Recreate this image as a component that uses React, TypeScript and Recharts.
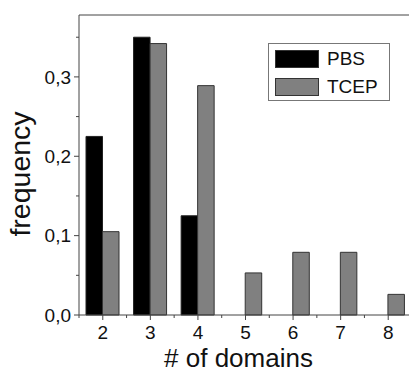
import React from 'react';
import { BarChart, Bar, XAxis, YAxis, ReferenceLine } from 'recharts';

// number of domains per molecule
const domainCounts = [2, 3, 4, 5, 6, 7, 8];
const pbsFreq = [0.225, 0.35, 0.125, 0, 0, 0, 0];
const tcepFreq = [0.105, 0.342, 0.289, 0.053, 0.079, 0.079, 0.026];
const seriesNames = ['PBS', 'TCEP'];

// major ticks on whole numbers, minor ones in between
const xTicks = [1.5, 2, 2.5, 3, 3.5, 4, 4.5, 5, 5.5, 6, 6.5, 7, 7.5, 8, 8.5];
const yTicks = [0, 0.05, 0.1, 0.15, 0.2, 0.25, 0.3, 0.35];
const yMax = 0.378;

const AXIS = '#444';
const FONT = '"Liberation Sans", Arial, sans-serif';
const colors = ['#000000', '#808080'];

const chartData = domainCounts.map((d, i) => ({
  domains: d,
  PBS: pbsFreq[i],
  TCEP: tcepFreq[i],
}));

const isMajorY = (v: number) => Math.abs(v * 10 - Math.round(v * 10)) < 1e-6;

function XTick({ x, y, payload }: any) {
  const major = Number.isInteger(payload.value);
  return (
    <g>
      <line x1={x} x2={x} y1={y} y2={y + (major ? 5 : 3)} stroke={AXIS} />
      {major && (
        <text x={x} y={y + 24} textAnchor="middle" fontSize={19} fill="#111" fontFamily={FONT}>
          {payload.value}
        </text>
      )}
    </g>
  );
}

function YTick({ x, y, payload }: any) {
  const major = isMajorY(payload.value);
  return (
    <g>
      <line x1={x - (major ? 5 : 3)} x2={x} y1={y} y2={y} stroke={AXIS} />
      {major && (
        <text x={x - 8} y={y} dy="0.36em" textAnchor="end" fontSize={19} fill="#111" fontFamily={FONT}>
          {payload.value.toFixed(1).replace('.', ',')}
        </text>
      )}
    </g>
  );
}

function XTitle(props: any) {
  const vb = props.viewBox;
  return (
    <text x={vb.x + vb.width / 2 - 7} y={vb.y + 52} textAnchor="middle" fontSize={26} fill="#111" fontFamily={FONT}>
      # of domains
    </text>
  );
}

function YTitle(props: any) {
  const vb = props.viewBox;
  const cx = vb.x + 30;
  const cy = vb.y + vb.height / 2 + 9;
  return (
    <text
      x={cx}
      y={cy}
      transform={`rotate(-90 ${cx} ${cy})`}
      textAnchor="middle"
      fontSize={28.5}
      fill="#111"
      fontFamily={FONT}
    >
      frequency
    </text>
  );
}

export default function App() {
  return (
    <div
      style={{
        position: 'absolute',
        left: 0,
        top: 0,
        width: 409,
        height: 374,
        overflow: 'hidden',
        background: '#fff',
        fontFamily: FONT,
      }}
    >
      <BarChart
        width={430}
        height={374}
        data={chartData}
        margin={{ top: 15, right: 18, left: 0, bottom: 0 }}
        barGap={0}
        barSize={16.5}
      >
        <XAxis
          dataKey="domains"
          type="number"
          domain={[1.5, 8.5]}
          ticks={xTicks}
          tickCount={8}
          interval={0}
          height={59}
          tickSize={0}
          tickMargin={0}
          tickLine={false}
          tick={<XTick />}
          axisLine={{ stroke: AXIS }}
          label={XTitle}
        />
        <YAxis
          type="number"
          domain={[0, yMax]}
          ticks={yTicks}
          interval={0}
          width={79}
          tickSize={0}
          tickMargin={0}
          tickLine={false}
          tick={<YTick />}
          axisLine={{ stroke: AXIS }}
          label={YTitle}
        />
        <ReferenceLine y={yMax} stroke={AXIS} />
        <Bar dataKey="PBS" fill={colors[0]} stroke="#222" strokeWidth={1} isAnimationActive={false} />
        <Bar dataKey="TCEP" fill={colors[1]} stroke="#333" strokeWidth={1} isAnimationActive={false} />
      </BarChart>
      <div
        style={{
          position: 'absolute',
          left: 268,
          top: 43,
          width: 120,
          height: 56,
          border: '1px solid #777',
          background: '#fff',
        }}
      >
        {seriesNames.map((name, i) => (
          <div
            key={name}
            style={{
              position: 'absolute',
              left: 6,
              top: 5 + i * 28,
              display: 'flex',
              alignItems: 'center',
              height: 20,
            }}
          >
            <span
              style={{
                display: 'inline-block',
                width: 44,
                height: 18,
                background: colors[i],
                border: '1px solid #333',
                boxSizing: 'border-box',
              }}
            />
            <span style={{ marginLeft: 8, fontSize: 19, color: '#111', lineHeight: '20px' }}>{name}</span>
          </div>
        ))}
      </div>
    </div>
  );
}
